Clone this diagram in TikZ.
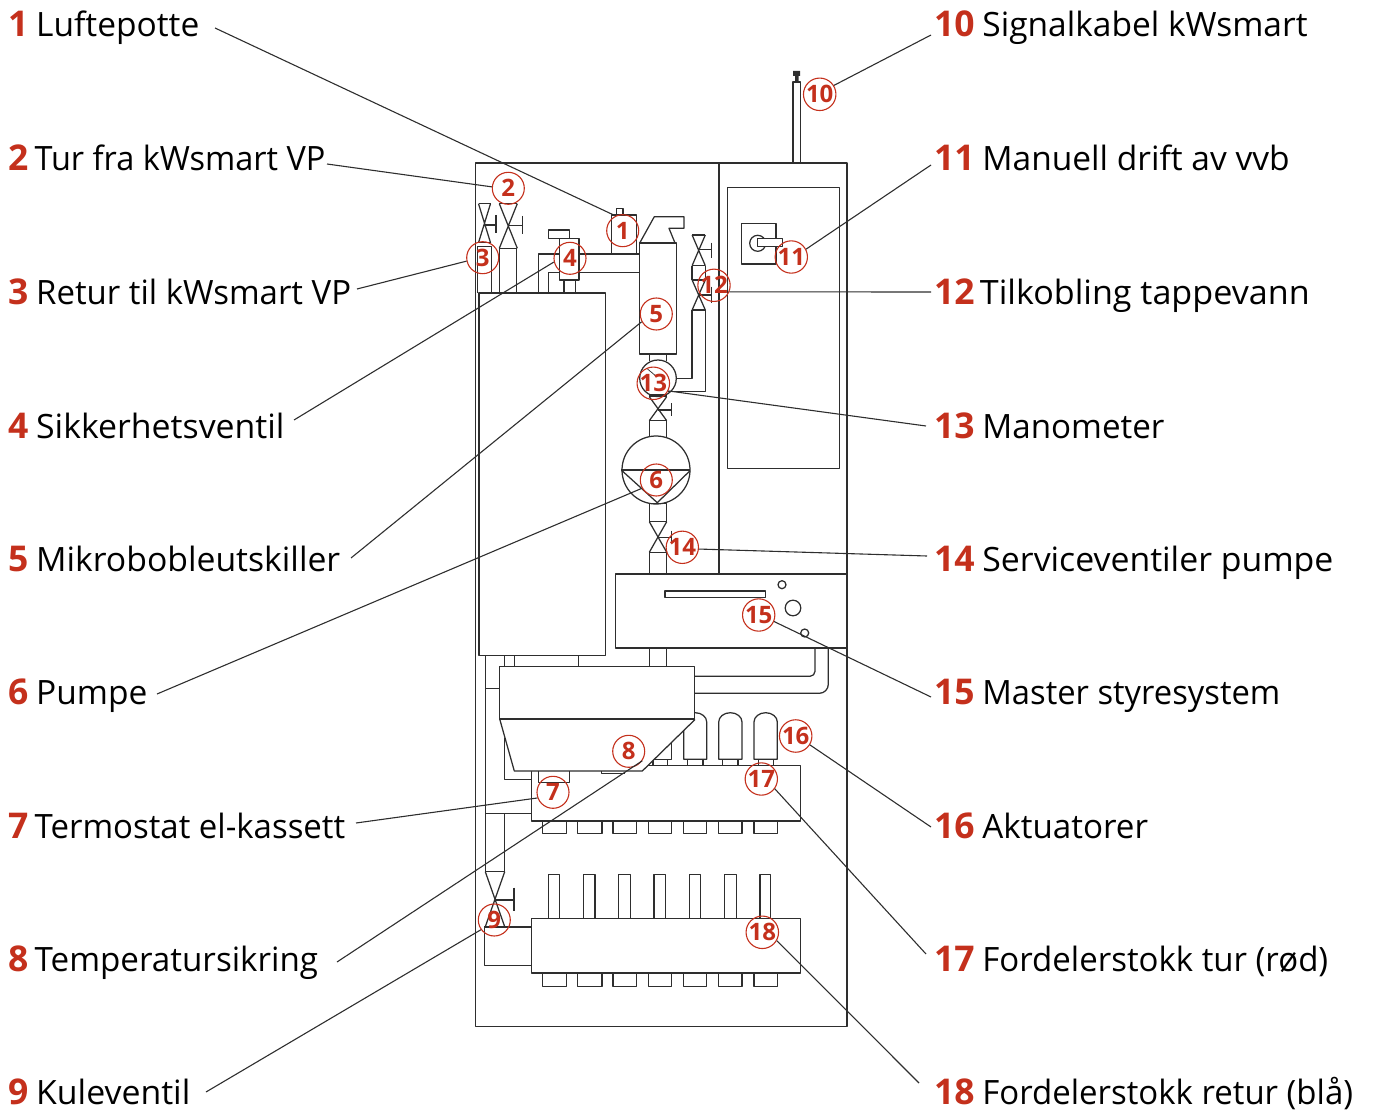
\documentclass[tikz,border=0pt]{standalone}
\usepackage{graphicx}
\usepackage{fontspec}
\setmainfont{Open Sans}
\definecolor{callred}{HTML}{C4301C}
\definecolor{ink}{HTML}{2E2E2E}
\tikzset{
  part/.style={draw=ink,line width=1.25pt,line join=round},
  partfill/.style={part,fill=white},
  leader/.style={draw=ink,line width=1.1pt},
  callout/.style={circle,draw=callred,line width=1.1pt,minimum size=32pt,inner sep=0pt,text=callred,font=\fontsize{24}{24}\selectfont\bfseries},
  caption/.style={anchor=base west,inner sep=0pt,font=\fontsize{33.5}{33.5}\selectfont,text=black},
}
% \capt{number}{gap}{horizontal fit}{text}
\newcommand{\capt}[4]{\textcolor{callred}{\fontsize{35.5}{35.5}\selectfont\bfseries #1}\hspace{#2pt}\scalebox{#3}[1]{#4}}
% \myvalve{cx}{top}{mid}{bottom}{halfwidth}{handle x}{bar top}{bar bottom}
\newcommand{\myvalve}[8]{%
  \draw[part] (#1-#5,#2) -- (#1+#5,#4) (#1+#5,#2) -- (#1-#5,#4);
  \draw[part] (#1-#5,#2) -- (#1+#5,#2) (#1-#5,#4) -- (#1+#5,#4);
  \draw[part] (#1,#3) -- (#6,#3) (#6,#7) -- (#6,#8);
}
\begin{document}
\begin{tikzpicture}[x=1pt,y=-1pt]
\useasboundingbox (0,0) rectangle (1373,1110);
% cabinet
\draw[part] (475.3,163) rectangle (847,1026.7);
\draw[part] (719,163) -- (719,574);
\draw[part] (727.3,187.3) rectangle (839.3,468.3);
% cable
\draw[part] (793,163) -- (793,82) -- (800.3,82) -- (800.3,163);
\fill[ink] (793,71) rectangle (800,76) (795,76) rectangle (798.5,82);
% manual switch
\draw[part] (741.7,223.3) rectangle (776,264);
\draw[part] (757.7,243.3) circle (8);
\draw[partfill] (757.7,238.3) rectangle (782.3,246.7);
% tank
\draw[part] (479,293) rectangle (605.7,655.7);
% valves 3 and 2
\myvalve{484.5}{203.7}{225}{242.7}{6}{496}{215}{233}
\draw[part] (477.7,293) -- (477.7,246.7) -- (491.3,246.7) -- (491.3,293);
\myvalve{508.3}{203.7}{225.7}{248.3}{9}{522.7}{216}{234}
\draw[part] (499.7,248.3) -- (499.7,293) (516.7,248.3) -- (516.7,293);
% safety valve
\draw[part] (559.3,238.3) rectangle (579,280);
\draw[part] (548.3,230) rectangle (569.3,238.3);
\draw[part] (564,280) -- (564,293) (575.3,280) -- (575.3,293);
\draw[part] (538.7,293) -- (538.7,254) -- (559.3,254);
\draw[part] (548.7,293) -- (548.7,272.3) -- (559.3,272.3);
\draw[part] (579,254) -- (639.7,254) (579,272.3) -- (639.7,272.3);
% air pot
\draw[part] (611.7,254) -- (611.7,215) -- (636.7,215) -- (636.7,254);
\draw[part] (616.3,215) -- (616.3,208.3) -- (623,208.3) -- (623,215);
% micro bubble separator
\draw[part] (639.7,243) rectangle (676.3,354);
\draw[part] (639.7,243) -- (654.3,216.7) -- (684,216.7) -- (684,228.3) -- (669,228.3) -- (675,243);
\draw[part] (649.3,354) -- (649.3,361) (666.7,354) -- (666.7,361);
% manometer
\draw[partfill] (658,378.3) circle (18.3);
\draw[part] (675.5,378.3) -- (692,378.3) -- (692,310) (705.3,310) -- (705.3,391.7) -- (668,391.7);
\draw[draw=ink,line width=.7pt] (646.7,368.3) -- (656.7,376.7);
% valves 12
\myvalve{698.7}{235}{249.3}{265.7}{6.6}{711.7}{242.7}{258.3}
\myvalve{698.7}{280}{295}{310}{6.6}{711.7}{286.7}{302.7}
\draw[part] (692,265.7) -- (692,280) (705.3,265.7) -- (705.3,280);
% valve below manometer
\draw[part] (649.3,395) -- (649.3,396.7) (666.7,395) -- (666.7,396.7) (649.3,395) -- (666.7,395);
\myvalve{658}{396.7}{410}{420.7}{8.7}{671.3}{403.3}{416}
\draw[part] (649.3,420.7) -- (649.3,436.7) (666.7,420.7) -- (666.7,436.7);
% pump
\draw[part] (656,470) circle (34);
\draw[part] (621.3,470) -- (690,470);
\draw[part] (622,470.7) -- (657.3,502.7) -- (690,470.7);
\draw[part] (649.3,503.3) rectangle (666.7,521.7);
\myvalve{658}{521.7}{537.3}{552.3}{8.7}{671.7}{530.7}{543}
\draw[part] (649.3,552.3) -- (649.3,574) (666.7,552.3) -- (666.7,574);
% master control
\draw[part] (615.3,574) rectangle (847,648);
\draw[part] (665,591) rectangle (765.7,597.3);
\draw[part] (782,584.7) circle (4);
\draw[part] (793,608) circle (7.8);
\draw[part] (804.7,633) circle (4);
% pipes below
\draw[part] (649.3,648) -- (649.3,666.3) (666.7,648) -- (666.7,666.3);
\draw[part] (504.3,655.7) -- (504.3,666.3) (514.3,655.7) -- (514.3,666.3) (578.7,655.7) -- (578.7,666.3);
\draw[part] (485.3,655.7) -- (485.3,871.7);
\draw[part] (485.3,688.7) -- (499.7,688.7);
\draw[part,rounded corners=5pt] (694.7,676.3) -- (815,676.3) -- (815,648);
\draw[part,rounded corners=9pt] (694.7,693.3) -- (828.3,693.3) -- (828.3,648);
% actuators
\foreach \xa/\xb/\sa/\sb in {683.7/706.7/687.7/703, 718.7/742/722.7/738, 754/777.3/758.3/773.3}{
  \draw[part] (\xa,759.3) -- (\xa,722) arc[start angle=180,end angle=0,x radius=(\xb-\xa)/2,y radius=-9.3] -- (\xb,759.3) -- cycle;
  \draw[part] (\sa,759.3) -- (\sa,765.3) (\sb,759.3) -- (\sb,765.3);
}
\draw[part] (671.7,743) -- (671.7,759.3) -- (654,759.3);
\draw[part] (653,759.3) -- (653,765.3) (667.3,759.3) -- (667.3,765.3);
% supply manifold
\draw[part] (531.3,765.3) rectangle (800.7,821);
\foreach \xa/\xb in {542.3/566.7,577.7/602,613/636.3,648.3/671.7,683.7/706.7,718.7/742,754/777.3}{
  \draw[part] (\xa,821) -- (\xa,833.3) -- (\xb,833.3) -- (\xb,821);
}
% expansion box
\fill[white] (499.7,719) -- (514.3,771) -- (642.3,771) -- (695,719) -- cycle;
\draw[part] (499.7,719) -- (514.3,771) -- (642.3,771) -- (695,719.5);
\draw[partfill] (499.7,666.3) rectangle (694.7,719);
\draw[part] (504.3,738) -- (504.3,779.3) -- (531.3,779.3);
\draw[part] (538.7,771) -- (538.7,782.3) -- (569.3,782.3) -- (569.3,771);
\draw[part] (601.7,771) -- (601.7,773.7) -- (625,773.7);
\draw[part] (485.3,813.7) -- (531.3,813.7);
\draw[part] (504.7,813.7) -- (504.7,871.7);
% ball valve
\myvalve{495}{871.7}{900}{926.7}{9.7}{514}{887.7}{911}
\draw[part] (484.3,927) -- (531.3,927);
\draw[part] (484.3,927) -- (484.3,965.7) -- (531.3,965.7);
% return manifold
\draw[part] (531.3,918.3) rectangle (800.7,973);
\foreach \xa/\xb in {542.3/566.7,577.7/602,613/636.3,648.3/671.7,683.7/706.7,718.7/742,754/777.3}{
  \draw[part] (\xa,973) -- (\xa,986.7) -- (\xb,986.7) -- (\xb,973);
}
\foreach \xa/\xb in {548.3/559.3,583.3/595,618.7/630.3,654/665.3,689.3/700.7,724.7/736.3,760/770.7}{
  \draw[part] (\xa,918.3) -- (\xa,874.3) -- (\xb,874.3) -- (\xb,918.3);
}
% callouts
\node[callout] (c1) at (622.7,230.7) {1};
\node[callout] (c2) at (508.3,188.3) {2};
\node[callout] (c3) at (482.7,257.7) {3};
\node[callout] (c4) at (570,258.3) {4};
\node[callout] (c5) at (656.3,314) {5};
\node[callout] (c6) at (656.3,480) {6};
\node[callout] (c7) at (553,792.3) {7};
\node[callout] (c8) at (628.7,751.3) {8};
\node[callout] (c9) at (494.3,920) {9};
\node[callout] (c10) at (819.7,94.3) {10};
\node[callout] (c11) at (791.3,257) {11};
\node[callout] (c12) at (714,285.3) {12};
\node[callout] (c13) at (653.3,383.3) {13};
\node[callout] (c14) at (682.3,547.3) {14};
\node[callout] (c15) at (758.7,615) {15};
\node[callout] (c16) at (795.7,736) {16};
\node[callout] (c17) at (761.3,779) {17};
\node[callout] (c18) at (762.3,932.3) {18};
% captions
\node[caption] (l1) at (8,37) {\capt{1}{7.7}{1}{Luftepotte}};
\node[caption] (l2) at (8,171) {\capt{2}{6.2}{.97}{Tur fra kWsmart VP}};
\node[caption] (l3) at (8,304) {\capt{3}{7.7}{.984}{Retur til kWsmart VP}};
\node[caption] (l4) at (8,438) {\capt{4}{7.7}{1.01}{Sikkerhetsventil}};
\node[caption] (l5) at (8,571) {\capt{5}{7.7}{1.007}{Mikrobobleutskiller}};
\node[caption] (l6) at (8,704) {\capt{6}{7.7}{1}{Pumpe}};
\node[caption] (l7) at (8,838) {\capt{7}{6.2}{.984}{Termostat el-kassett}};
\node[caption] (l8) at (8,971) {\capt{8}{6.2}{.99}{Temperatursikring}};
\node[caption] (l9) at (8,1104) {\capt{9}{7.7}{1.01}{Kuleventil}};
\node[caption] (l10) at (934,37) {\capt{10}{7.7}{1}{Signalkabel kWsmart}};
\node[caption] (l11) at (934,171) {\capt{11}{7.7}{1}{Manuell drift av vvb}};
\node[caption] (l12) at (934,304) {\capt{12}{5.2}{1.018}{Tilkobling tappevann}};
\node[caption] (l13) at (934,438) {\capt{13}{7.7}{.99}{Manometer}};
\node[caption] (l14) at (934,571) {\capt{14}{7.7}{1.009}{Serviceventiler pumpe}};
\node[caption] (l15) at (934,704) {\capt{15}{7.7}{.977}{Master styresystem}};
\node[caption] (l16) at (934,838) {\capt{16}{7.7}{.99}{Aktuatorer}};
\node[caption] (l17) at (934,971) {\capt{17}{7.7}{.985}{Fordelerstokk tur (rød)}};
\node[caption] (l18) at (934,1104) {\capt{18}{7.7}{.984}{Fordelerstokk retur (blå)}};
% leader starts
\foreach \n/\x/\y in {1/215/28,2/327/164,3/357/289,4/294/420,5/351/558,6/157/694,7/356/823,8/337/962,9/206/1092,10/931/35,11/931/165,12/931/292,13/926/426,14/927/556,15/931/697,16/931/827,17/926/954,18/919/1083}
  \coordinate (s\n) at (\x,\y);
\draw[leader] (s1) -- (c1.116);
\draw[leader] (s2) -- (c2.175);
\draw[leader] (s3) -- (c3.192);
\draw[leader] (s4) -- (c4.193);
\draw[leader] (s5) -- (c5.208);
\draw[leader] (s6) -- (c6.210);
\draw[leader] (s7) -- (c7.200);
\draw[leader] (s8) -- (c8.325);
\draw[leader] (s9) -- (c9.216);
\draw[leader] (s10) -- (c10.32);
\draw[leader] (s11) -- (c11.28);
\draw[leader] (s12) -- (c12.337);
\draw[leader] (s13) -- (c13.333);
\draw[leader] (s14) -- (c14.354);
\draw[leader] (s15) -- (c15.337);
\draw[leader] (s16) -- (c16.328);
\draw[leader] (s17) -- (c17.324);
\draw[leader] (s18) -- (c18.330);
\end{tikzpicture}
\end{document}
